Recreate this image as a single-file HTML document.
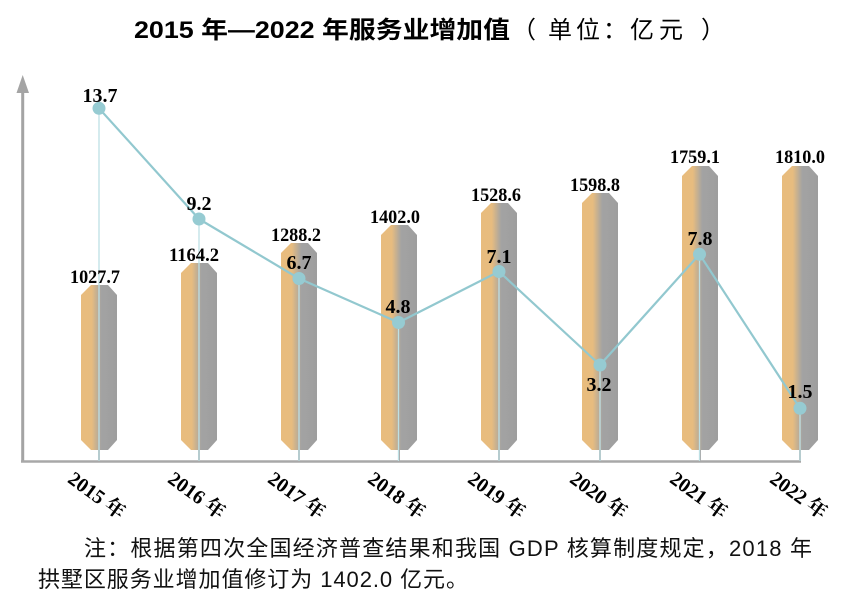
<!DOCTYPE html>
<html>
<head>
<meta charset="utf-8">
<style>
  html, body { margin: 0; padding: 0; background: #ffffff; }
  svg { display: block; }
  .bl { font-family: "Liberation Serif", "Noto Serif CJK SC", serif; font-weight: bold; fill: #000; }
  .xl { font-family: "Liberation Serif", "Noto Serif CJK SC", serif; font-weight: bold; font-size: 20px; fill: #000; }
  .note { font-family: "Liberation Sans", "Noto Sans CJK SC", sans-serif; font-size: 22px; fill: #111; }
  .title { font-family: "Liberation Sans", "Noto Sans CJK SC", sans-serif; font-size: 24px; font-weight: bold; fill: #000; }
  .title2 { font-family: "Liberation Sans", "Noto Sans CJK SC", sans-serif; font-size: 24px; font-weight: normal; fill: #000; }
</style>
</head>
<body>
<svg width="854" height="601" viewBox="0 0 854 601" xmlns="http://www.w3.org/2000/svg">
  <defs>
    <linearGradient id="g" x1="0" x2="1" y1="0" y2="0">
      <stop offset="0" stop-color="#E8BC7E"/>
      <stop offset="0.3" stop-color="#E7BC7F"/>
      <stop offset="0.56" stop-color="#A3A3A3"/>
      <stop offset="1" stop-color="#9E9E9E"/>
    </linearGradient>
  </defs>

  <!-- Title -->
  <text class="title" x="134" y="38" textLength="376" lengthAdjust="spacingAndGlyphs">2015 年—2022 年服务业增加值</text>
  <text class="title2" y="38"><tspan x="512">（</tspan><tspan x="548">单</tspan><tspan x="576">位</tspan><tspan x="603">：</tspan><tspan x="630">亿</tspan><tspan x="659">元</tspan><tspan x="701">）</tspan></text>

  <!-- Y axis with arrow -->
  <line x1="22.7" y1="90" x2="22.7" y2="462" stroke="#A4A4A4" stroke-width="3"/>
  <polygon points="22.7,75 16.5,93 29,93" fill="#A4A4A4"/>

  <!-- X axis -->
  <line x1="21" y1="461.5" x2="801" y2="461.5" stroke="#A8A8A8" stroke-width="2.6"/>
  <g stroke="#A8A8A8" stroke-width="2">
    <line x1="99" y1="450" x2="99" y2="461"/>
    <line x1="199" y1="450" x2="199" y2="461"/>
    <line x1="299" y1="450" x2="299" y2="461"/>
    <line x1="399" y1="450" x2="399" y2="461"/>
    <line x1="499" y1="450" x2="499" y2="461"/>
    <line x1="600" y1="450" x2="600" y2="461"/>
    <line x1="700" y1="450" x2="700" y2="461"/>
    <line x1="800" y1="450" x2="800" y2="462.5"/>
  </g>

  <!-- Bars -->
  <g fill="url(#g)">
    <polygon points="81,295 91,285 108,285 117,295 117,440 108,450 91,450 81,440"/>
    <polygon points="181,273 191,263 208,263 217,273 217,440 208,450 191,450 181,440"/>
    <polygon points="281,253 291,243 308,243 317,253 317,440 308,450 291,450 281,440"/>
    <polygon points="381,235 391,225 408,225 417,235 417,440 408,450 391,450 381,440"/>
    <polygon points="481,213 491,203 508,203 517,213 517,440 508,450 491,450 481,440"/>
    <polygon points="582,203 592,193 609,193 618,203 618,440 609,450 592,450 582,440"/>
    <polygon points="682,176 692,166 709,166 718,176 718,440 709,450 692,450 682,440"/>
    <polygon points="782,176 792,166 809,166 818,176 818,440 809,450 792,450 782,440"/>
  </g>

  <!-- Drop lines -->
  <g stroke="#BEE0E4" stroke-width="1.3">
    <line x1="99" y1="108" x2="99" y2="461"/>
    <line x1="199" y1="219" x2="199" y2="461"/>
    <line x1="299" y1="278.5" x2="299" y2="461"/>
    <line x1="398.5" y1="322.5" x2="398.5" y2="461"/>
    <line x1="499" y1="271.5" x2="499" y2="461"/>
    <line x1="600" y1="365" x2="600" y2="461"/>
    <line x1="699.5" y1="254.3" x2="699.5" y2="461"/>
    <line x1="800" y1="408.3" x2="800" y2="461"/>
  </g>

  <!-- Growth line -->
  <polyline points="99,108.3 199,219 299,278.5 398.5,322.5 499,271.5 600,365 699.5,254.3 800,408.3"
            fill="none" stroke="#92C8CF" stroke-width="2.2" stroke-linejoin="round"/>
  <g fill="#96CBD2">
    <circle cx="99" cy="108.3" r="6.5"/>
    <circle cx="199" cy="219" r="6.5"/>
    <circle cx="299" cy="278.5" r="6.5"/>
    <circle cx="398.5" cy="322.5" r="6.5"/>
    <circle cx="499" cy="271.5" r="6.5"/>
    <circle cx="600" cy="365" r="6.5"/>
    <circle cx="699.5" cy="254.3" r="6.5"/>
    <circle cx="800" cy="408.3" r="6.5"/>
  </g>

  <!-- Bar value labels -->
  <g class="bl" font-size="19" text-anchor="middle">
    <text x="95" y="283" textLength="50" lengthAdjust="spacingAndGlyphs">1027.7</text>
    <text x="194" y="261" textLength="50" lengthAdjust="spacingAndGlyphs">1164.2</text>
    <text x="296" y="241" textLength="50" lengthAdjust="spacingAndGlyphs">1288.2</text>
    <text x="395" y="223" textLength="50" lengthAdjust="spacingAndGlyphs">1402.0</text>
    <text x="496" y="201" textLength="50" lengthAdjust="spacingAndGlyphs">1528.6</text>
    <text x="595" y="191" textLength="50" lengthAdjust="spacingAndGlyphs">1598.8</text>
    <text x="695" y="163" textLength="50" lengthAdjust="spacingAndGlyphs">1759.1</text>
    <text x="800" y="163" textLength="50" lengthAdjust="spacingAndGlyphs">1810.0</text>
  </g>

  <!-- Growth value labels -->
  <g class="bl" font-size="20" text-anchor="middle">
    <text x="100" y="102">13.7</text>
    <text x="199" y="210">9.2</text>
    <text x="299" y="269">6.7</text>
    <text x="398" y="313">4.8</text>
    <text x="499" y="263">7.1</text>
    <text x="599" y="391">3.2</text>
    <text x="700" y="245">7.8</text>
    <text x="800" y="398">1.5</text>
  </g>

  <!-- X labels -->
  <g class="xl" text-anchor="middle">
    <text transform="translate(97,495) rotate(36)" y="7">2015 年</text>
    <text transform="translate(197,495) rotate(36)" y="7">2016 年</text>
    <text transform="translate(297,495) rotate(36)" y="7">2017 年</text>
    <text transform="translate(397,495) rotate(36)" y="7">2018 年</text>
    <text transform="translate(497,495) rotate(36)" y="7">2019 年</text>
    <text transform="translate(599,495) rotate(36)" y="7">2020 年</text>
    <text transform="translate(699,495) rotate(36)" y="7">2021 年</text>
    <text transform="translate(799,495) rotate(36)" y="7">2022 年</text>
  </g>

  <!-- Note -->
  <text class="note" x="84" y="556" textLength="728" lengthAdjust="spacing">注：根据第四次全国经济普查结果和我国 GDP 核算制度规定，2018 年</text>
  <text class="note" x="38" y="587" textLength="430" lengthAdjust="spacing">拱墅区服务业增加值修订为 1402.0 亿元。</text>
</svg>
</body>
</html>
